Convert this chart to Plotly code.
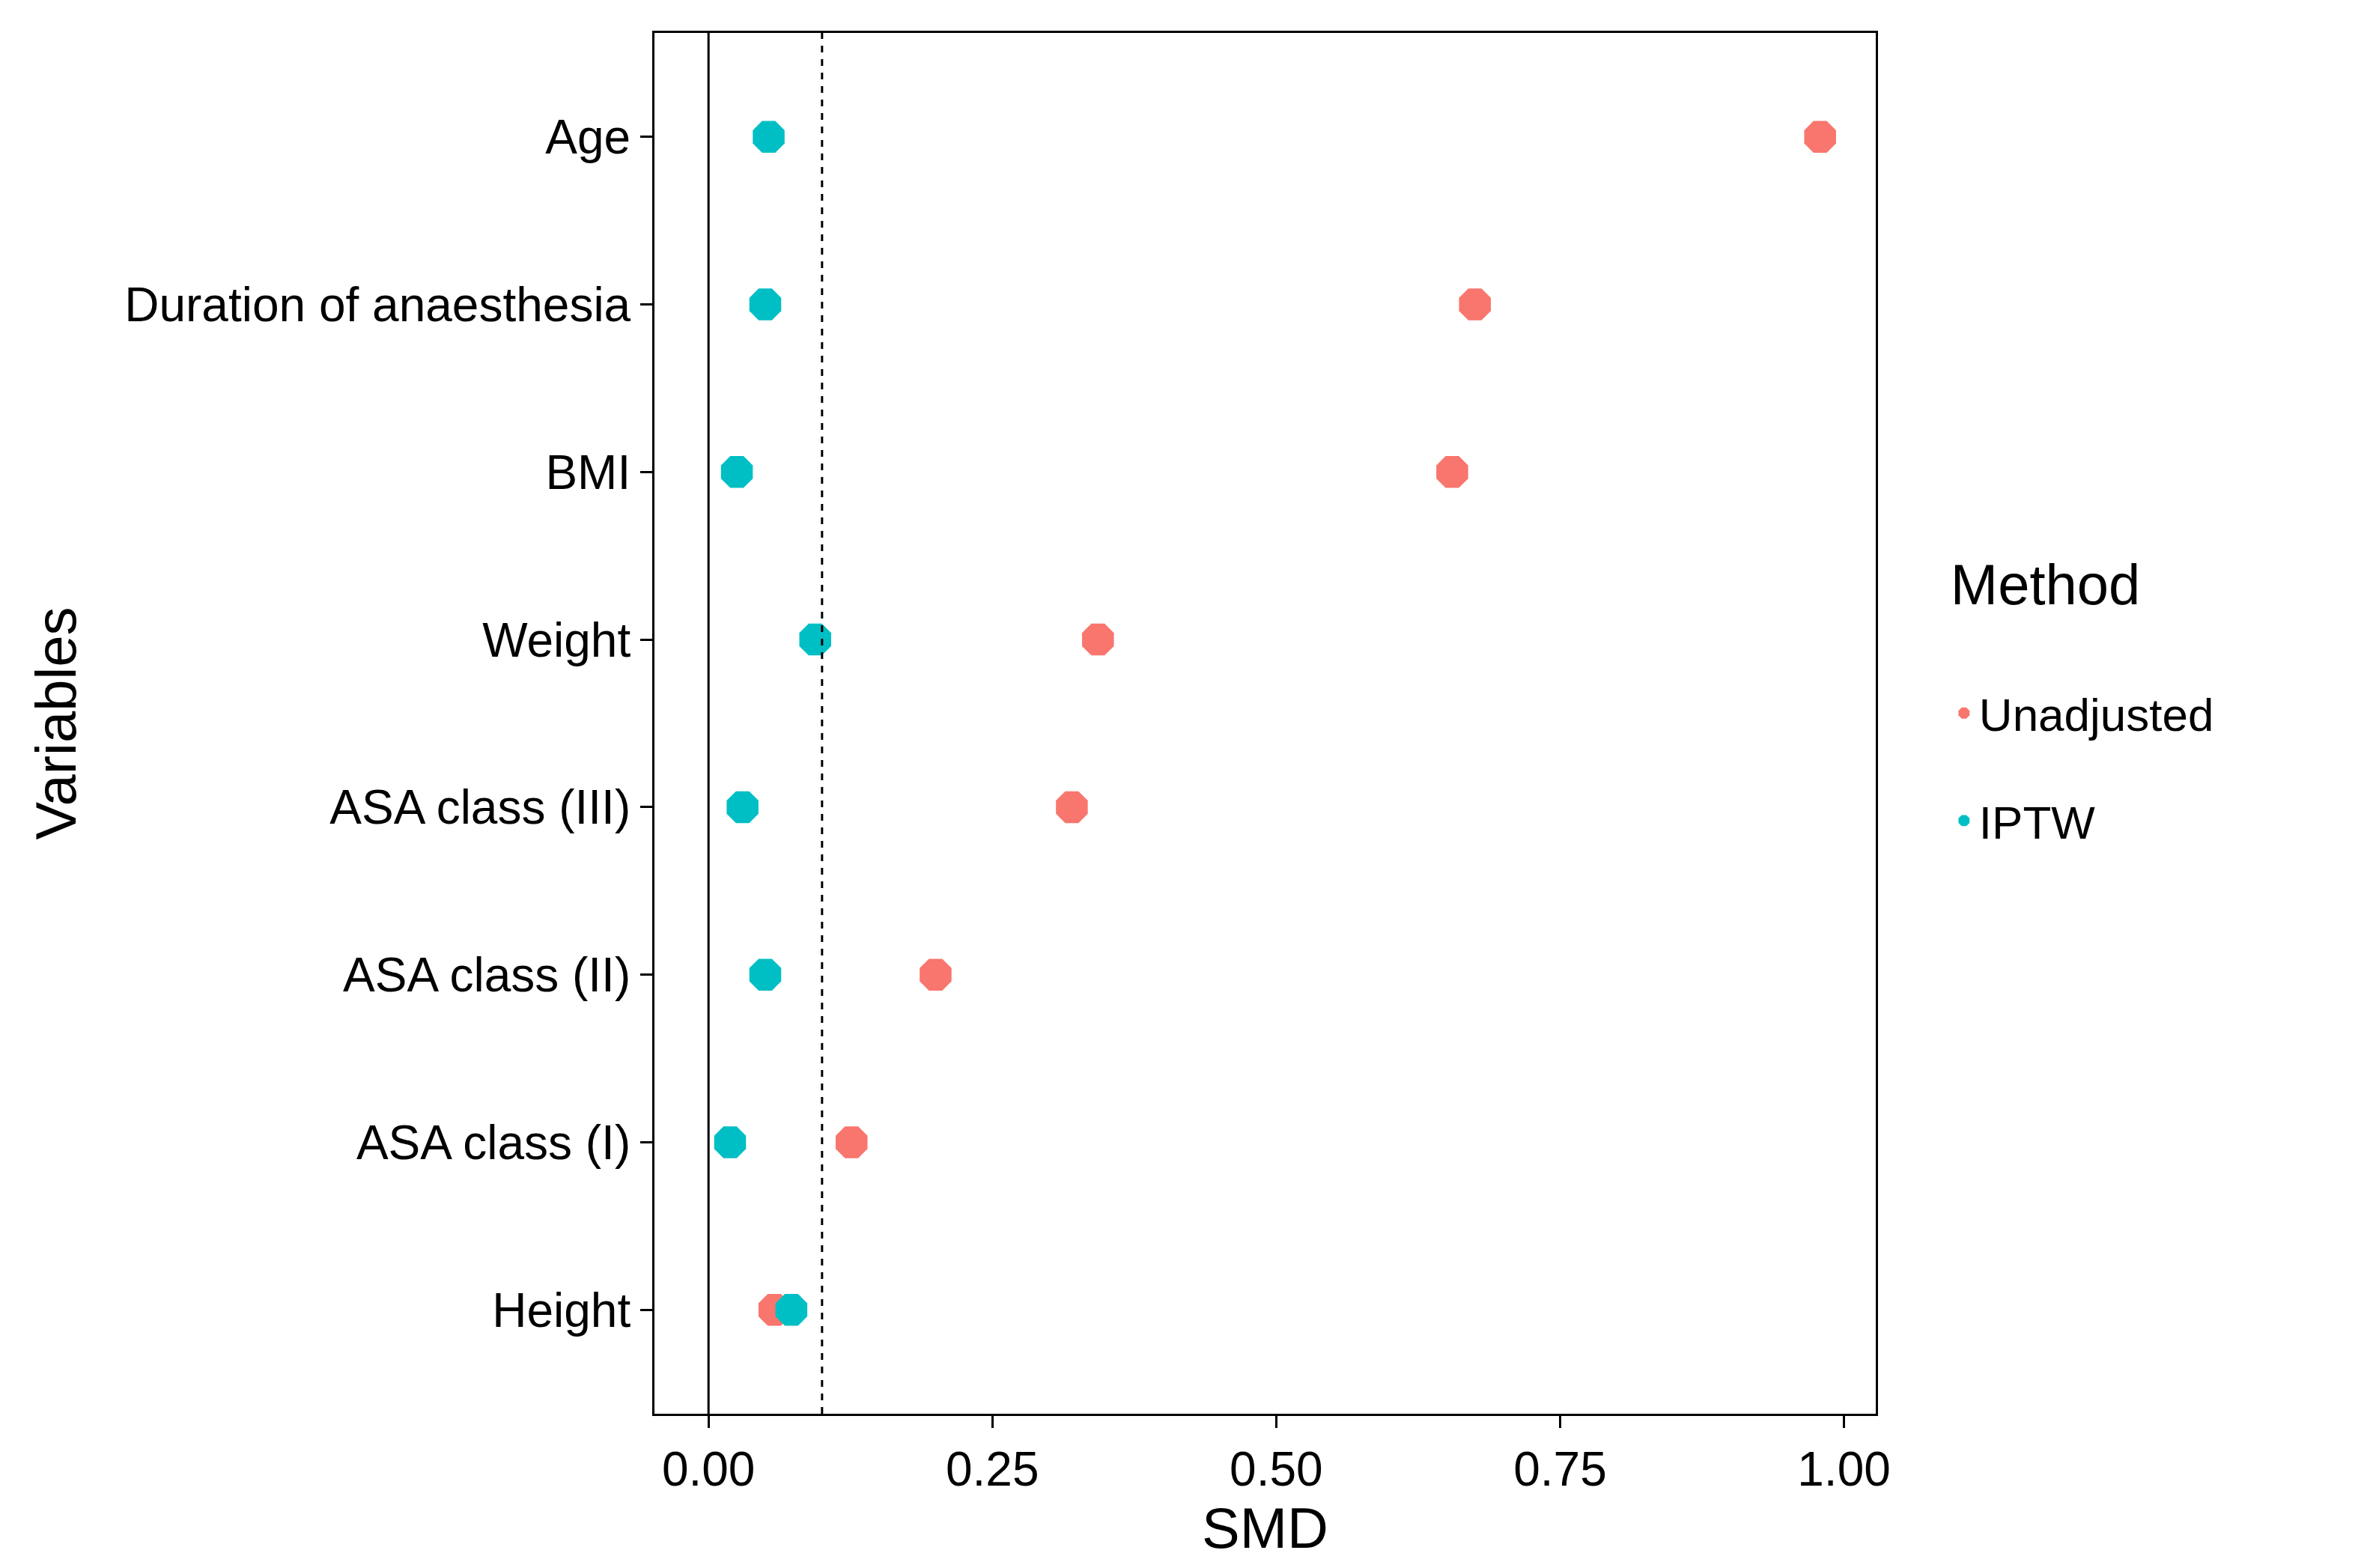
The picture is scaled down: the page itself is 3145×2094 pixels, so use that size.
import plotly.graph_objects as go

variables = ["Height", "ASA class (I)", "ASA class (II)", "ASA class (III)",
             "Weight", "BMI", "Duration of anaesthesia", "Age"]
smd_unadjusted = [0.058, 0.126, 0.200, 0.320, 0.343, 0.655, 0.675, 0.979]
smd_iptw = [0.073, 0.019, 0.050, 0.030, 0.094, 0.025, 0.050, 0.053]
x_ticks = [0, 0.25, 0.5, 0.75, 1.0]
x_tick_labels = ["0.00", "0.25", "0.50", "0.75", "1.00"]
threshold = 0.1

FONT = "Liberation Sans, Arial, sans-serif"

fig = go.Figure()
fig.add_trace(go.Scatter(x=smd_unadjusted, y=variables, mode="markers", name="Unadjusted",
                         legendgroup="u",
                         marker=dict(symbol="octagon", size=46, color="#F8766D")))
fig.add_trace(go.Scatter(x=smd_iptw, y=variables, mode="markers", name="IPTW",
                         legendgroup="i",
                         marker=dict(symbol="octagon", size=46, color="#00BFC4")))

fig.add_vline(x=0, line=dict(color="black", width=3))
fig.add_vline(x=threshold, line=dict(color="black", width=3, dash="dash"))

fig.update_layout(
    width=3145, height=2094,
    margin=dict(l=866, r=648, t=36, b=214),
    plot_bgcolor="white", paper_bgcolor="white",
    font=dict(family=FONT, size=64, color="black"),
    legend=dict(title=dict(text="Method<br> ", font=dict(size=76)), x=1.06, y=0.64,
                xanchor="left", yanchor="top", font=dict(size=62),
                tracegroupgap=60),
)
fig.update_xaxes(range=[-0.0476, 1.028], tickvals=x_ticks, ticktext=x_tick_labels,
                 showgrid=False, zeroline=False, showline=True, mirror=True,
                 linecolor="black", linewidth=3, ticks="outside", ticklen=16,
                 tickwidth=3, tickcolor="black",
                 title=dict(text="SMD", font=dict(size=76), standoff=14))
fig.update_yaxes(type="category", categoryorder="array", categoryarray=variables,
                 range=[-0.62, 7.62], showgrid=False, zeroline=False, showline=True,
                 mirror=True, linecolor="black", linewidth=3, ticks="outside",
                 ticklen=16, tickwidth=3, tickcolor="black",
                 title=dict(text="Variables", font=dict(size=76), standoff=40))

fig.write_html("out.html")
